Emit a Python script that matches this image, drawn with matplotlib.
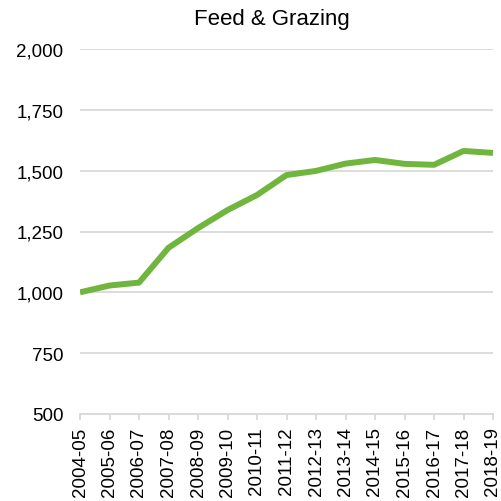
import matplotlib
matplotlib.use("Agg")
import matplotlib.pyplot as plt
from matplotlib.ticker import FuncFormatter

years = ["2004-05", "2005-06", "2006-07", "2007-08", "2008-09", "2009-10", "2010-11",
         "2011-12", "2012-13", "2013-14", "2014-15", "2015-16", "2016-17", "2017-18", "2018-19"]
values = [1000, 1028, 1040, 1183, 1264, 1338, 1400, 1482, 1499, 1529, 1544, 1528, 1524, 1581, 1573]
yticks = [500, 750, 1000, 1250, 1500, 1750, 2000]

plt.rcParams['font.family'] = ['Liberation Sans', 'DejaVu Sans']

fig = plt.figure(figsize=(5.01, 5.02), dpi=100)
ax = fig.add_axes([80/501, 87/502, 413/501, 365/502])

x = list(range(len(years)))
ax.plot(x, values, color='#70B63E', linewidth=4.3, solid_capstyle='butt', solid_joinstyle='round', zorder=3)

ax.set_xlim(0, len(years) - 1)
ax.set_ylim(500, 2000)
ax.set_yticks(yticks)
ax.yaxis.set_major_formatter(FuncFormatter(lambda v, p: f"{int(v):,}"))
ax.set_xticks(x)
ax.set_xticklabels(years, rotation=90)

ax.grid(axis='y', color='#D9D9D9', linewidth=1.3, zorder=0)
for s in ['top', 'right', 'left']:
    ax.spines[s].set_visible(False)
ax.spines['bottom'].set_color('#D9D9D9')
ax.spines['bottom'].set_linewidth(1.3)
ax.tick_params(axis='y', length=0, labelsize=13.5, pad=12, colors='black')
ax.tick_params(axis='x', length=4, width=1.3, color='#D9D9D9', labelsize=13.5, pad=5)
fig.text(272/501, 1 - 25/502, "Feed & Grazing", fontsize=16, ha='center', va='baseline')
ax.set_clip_on(False)

fig.savefig("out.png", dpi=100)
